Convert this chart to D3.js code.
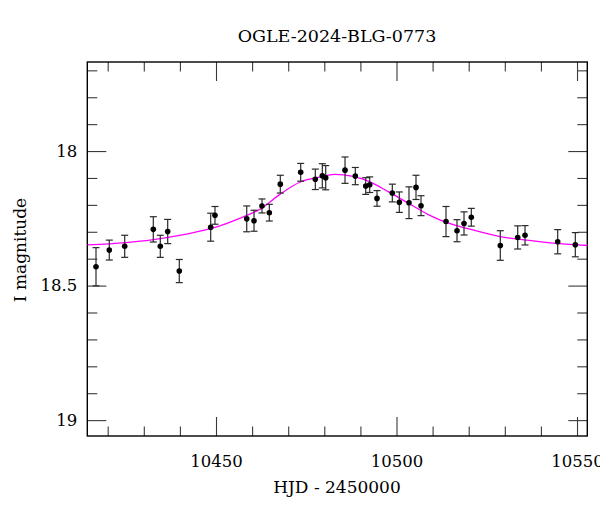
<!DOCTYPE html>
<html>
<head>
<meta charset="utf-8">
<script src="https://cdn.jsdelivr.net/npm/d3@7"></script>
<style>
  html, body { margin: 0; padding: 0; background: #fff; }
  svg { display: block; }
  text { font-family: "DejaVu Serif", "Liberation Serif", serif; fill: #000; }
</style>
</head>
<body>
<svg id="chart" width="600" height="512"></svg>
<script>
// Observations: HJD-2450000, I magnitude, error
const obsTime = [10416.76, 10420.44, 10424.71, 10432.63, 10434.57, 10436.62, 10439.83, 10448.53, 10449.72,
  10458.51, 10460.53, 10462.74, 10464.77, 10467.81, 10473.46, 10477.51, 10479.45, 10480.39, 10485.74,
  10488.59, 10491.47, 10492.58, 10494.60, 10498.84, 10500.78, 10503.46, 10505.40, 10506.79, 10513.71,
  10516.76, 10518.70, 10520.72, 10528.75, 10533.57, 10535.60, 10544.65, 10549.53];
const obsMag = [18.430, 18.368, 18.354, 18.291, 18.354, 18.299, 18.446, 18.283, 18.239,
  18.252, 18.259, 18.204, 18.229, 18.123, 18.079, 18.105, 18.092, 18.099, 18.071,
  18.093, 18.130, 18.125, 18.176, 18.156, 18.190, 18.192, 18.135, 18.203, 18.262,
  18.296, 18.269, 18.246, 18.351, 18.321, 18.313, 18.337, 18.348];
const obsErr = [0.071, 0.037, 0.041, 0.047, 0.041, 0.045, 0.043, 0.052, 0.033,
  0.048, 0.039, 0.026, 0.031, 0.033, 0.033, 0.038, 0.045, 0.045, 0.049,
  0.032, 0.031, 0.029, 0.029, 0.033, 0.038, 0.059, 0.045, 0.037, 0.056,
  0.041, 0.043, 0.033, 0.055, 0.043, 0.036, 0.045, 0.045];

// Model curve
const modelTime = [10414.4, 10425.0, 10432.2, 10441.4, 10449.7, 10456.2, 10462.7, 10467.8, 10473.5, 10477.5,
  10483.0, 10487.6, 10492.2, 10497.7, 10503.3, 10508.8, 10514.4, 10519.4, 10528.7, 10536.1, 10544.4, 10552.9];
const modelMag = [18.349, 18.340, 18.330, 18.310, 18.284, 18.252, 18.212, 18.160, 18.114, 18.100,
  18.087, 18.093, 18.112, 18.151, 18.194, 18.236, 18.268, 18.287, 18.318, 18.331, 18.343, 18.351];

const xMajorTicks = [10450, 10500, 10550];
const xMinorTicks = d3.range(10420, 10551, 10);
const yMajorTicks = [18, 18.5, 19];
const yMinorTicks = d3.range(17.7, 19.05, 0.1).map(v => +v.toFixed(1));

const titleText = "OGLE-2024-BLG-0773";
const xLabel = "HJD - 2450000";
const yLabel = "I magnitude";

const L = 87.3, R = 587.3, T = 62, B = 436;
const x = d3.scaleLinear().domain([10414.35, 10552.85]).range([L, R]);
const y = d3.scaleLinear().domain([17.669, 19.059]).range([T, B]);

const svg = d3.select("#chart");
const tickColor = "#3a3a3a";

function styleAxis(g) {
  g.selectAll(".tick line").attr("stroke", tickColor).attr("stroke-width", 1.1);
  g.select(".domain").remove();
  g.selectAll("text").style("font-family", '"DejaVu Serif", serif').style("font-size", "16.5px").attr("fill", "#000");
}

// bottom
svg.append("g").attr("transform", `translate(0,${B})`)
  .call(d3.axisBottom(x).tickValues(xMinorTicks.filter(v => v % 50 !== 0)).tickSize(-9.5).tickFormat(""))
  .call(styleAxis);
svg.append("g").attr("transform", `translate(0,${B})`)
  .call(d3.axisBottom(x).tickValues(xMajorTicks).tickSize(-19).tickPadding(19).tickFormat(d3.format("d")))
  .call(styleAxis);
// top
svg.append("g").attr("transform", `translate(0,${T})`)
  .call(d3.axisTop(x).tickValues(xMinorTicks.filter(v => v % 50 !== 0)).tickSize(-9.5).tickFormat(""))
  .call(styleAxis);
svg.append("g").attr("transform", `translate(0,${T})`)
  .call(d3.axisTop(x).tickValues(xMajorTicks).tickSize(-19).tickFormat(""))
  .call(styleAxis);
// left
svg.append("g").attr("transform", `translate(${L},0)`)
  .call(d3.axisLeft(y).tickValues(yMinorTicks.filter(v => !yMajorTicks.includes(v))).tickSize(-10).tickFormat(""))
  .call(styleAxis);
svg.append("g").attr("transform", `translate(${L},0)`)
  .call(d3.axisLeft(y).tickValues(yMajorTicks).tickSize(-19).tickPadding(10).tickFormat(d => d3.format("")(d)))
  .call(styleAxis);
// right
svg.append("g").attr("transform", `translate(${R},0)`)
  .call(d3.axisRight(y).tickValues(yMinorTicks.filter(v => !yMajorTicks.includes(v))).tickSize(-10).tickFormat(""))
  .call(styleAxis);
svg.append("g").attr("transform", `translate(${R},0)`)
  .call(d3.axisRight(y).tickValues(yMajorTicks).tickSize(-19).tickFormat(""))
  .call(styleAxis);

// frame
svg.append("rect").attr("x", L).attr("y", T).attr("width", R - L).attr("height", B - T)
  .attr("fill", "none").attr("stroke", "#000").attr("stroke-width", 1.4);

// model
const model = modelTime.map((t, i) => ({t, m: modelMag[i]}));
svg.append("path").datum(model)
  .attr("fill", "none").attr("stroke", "#ff00ff").attr("stroke-width", 1.3)
  .attr("d", d3.line().x(d => x(d.t)).y(d => y(d.m)).curve(d3.curveMonotoneX));

// observations
const obs = obsTime.map((t, i) => ({t, m: obsMag[i], e: obsErr[i]}));
const eb = svg.append("g").attr("stroke", "#2a2a2a").attr("stroke-width", 1.2);
const cap = 3.5;
obs.forEach(d => {
  const cx = x(d.t), y1 = y(d.m - d.e), y2 = y(d.m + d.e);
  eb.append("line").attr("x1", cx).attr("x2", cx).attr("y1", y1).attr("y2", y2);
  eb.append("line").attr("x1", cx - cap).attr("x2", cx + cap).attr("y1", y1).attr("y2", y1);
  eb.append("line").attr("x1", cx - cap).attr("x2", cx + cap).attr("y1", y2).attr("y2", y2);
});
svg.append("g").selectAll("circle").data(obs).join("circle")
  .attr("cx", d => x(d.t)).attr("cy", d => y(d.m)).attr("r", 2.8).attr("fill", "#000");

// labels
svg.append("text").attr("x", 337).attr("y", 42).attr("text-anchor", "middle")
  .style("font-size", "17.5px").text(titleText);
svg.append("text").attr("x", 337).attr("y", 493).attr("text-anchor", "middle")
  .style("font-size", "17px").text(xLabel);
svg.append("text").attr("transform", "translate(25.5,250) rotate(-90)").attr("text-anchor", "middle")
  .style("font-size", "17px").text(yLabel);
</script>
</body>
</html>
